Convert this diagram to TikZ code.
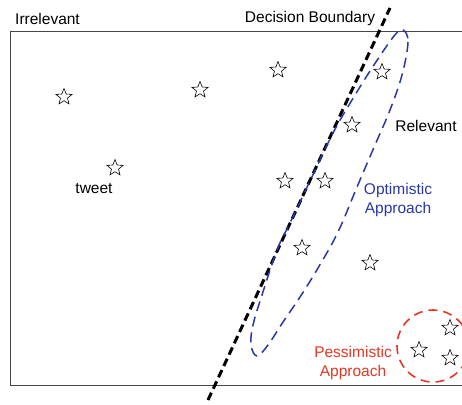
\documentclass[tikz,border=0pt]{standalone}
\usepackage{fontspec}
\setmainfont{Liberation Sans}
\usetikzlibrary{shapes.geometric}

\definecolor{optblue}{RGB}{40,55,170}
\definecolor{pesred}{RGB}{230,55,35}
\definecolor{boxgray}{RGB}{70,70,70}

\tikzset{
    tw/.style={star, star points=5, star point ratio=2.3, draw, line width=.6pt, minimum size=17pt, inner sep=0pt},
    lbl/.style={font=\fontsize{15.5}{19}\selectfont, inner sep=0pt, align=center}
}

\begin{document}
\begin{tikzpicture}[x=1pt,y=-1pt]
    \useasboundingbox (0,0) rectangle (462,404);

    \coordinate (tl) at (10,32);
    \coordinate (bl) at (10,385);
    \coordinate (tr) at (462,32);
    \coordinate (br) at (462,385);

    \draw [boxgray,line width=1pt] (tr) -- (tl) -- (bl) -- (br);

    % tweets
    \node [tw] (s1) at (64,97) {};
    \node [tw] (s2) at (200,90) {};
    \node [tw] (s3) at (278,70) {};
    \node [tw] (s4) at (382,72) {};
    \node [tw] (s5) at (352,125) {};
    \node [tw] (s6) at (115,168) {};
    \node [tw] (s7) at (285,181) {};
    \node [tw] (s8) at (325,181) {};
    \node [tw] (s9) at (302,248) {};
    \node [tw] (s10) at (370,263) {};
    \node [tw] (s11) at (450,328) {};
    \node [tw] (s12) at (419,350) {};
    \node [tw] (s13) at (450,358) {};

    \node [lbl,anchor=base] (tweet) at (94,193) {tweet};
    \node [lbl,anchor=base west] (irr) at (15,25) {Irrelevant};
    \node [lbl,anchor=base] (rel) at (426,131) {Relevant};
    \node [lbl,anchor=base] (db) at (310,23) {Decision Boundary};

    % decision boundary
    \coordinate (d0) at (208,400);
    \coordinate (d1) at (390,8);
    \draw [black,line width=3pt,dash pattern=on 8pt off 4.5pt] (d0) -- (d1);

    % optimistic
    \draw [optblue,line width=1.5pt,dash pattern=on 10pt off 6pt]
        plot [smooth cycle, tension=.6] coordinates {
            (403,30) (408,42) (402,75) (390,110) (375,145) (357,187)
            (338,232) (318,268) (300,297) (283,322) (268,345) (257,356)
            (251,345) (253,325) (262,295) (277,250) (290,223) (310,181)
            (333,133) (352,100) (372,68) (394,36)};
    \node [lbl,text=optblue] (opt) at (398,200) {Optimistic\\Approach};

    % pessimistic
    \coordinate (pc) at (433,346);
    \draw [pesred,line width=1.6pt,dash pattern=on 9pt off 6pt] (pc) circle [radius=36];
    \node [lbl,text=pesred] (pes) at (353,363) {Pessimistic\\Approach};

\end{tikzpicture}
\end{document}
